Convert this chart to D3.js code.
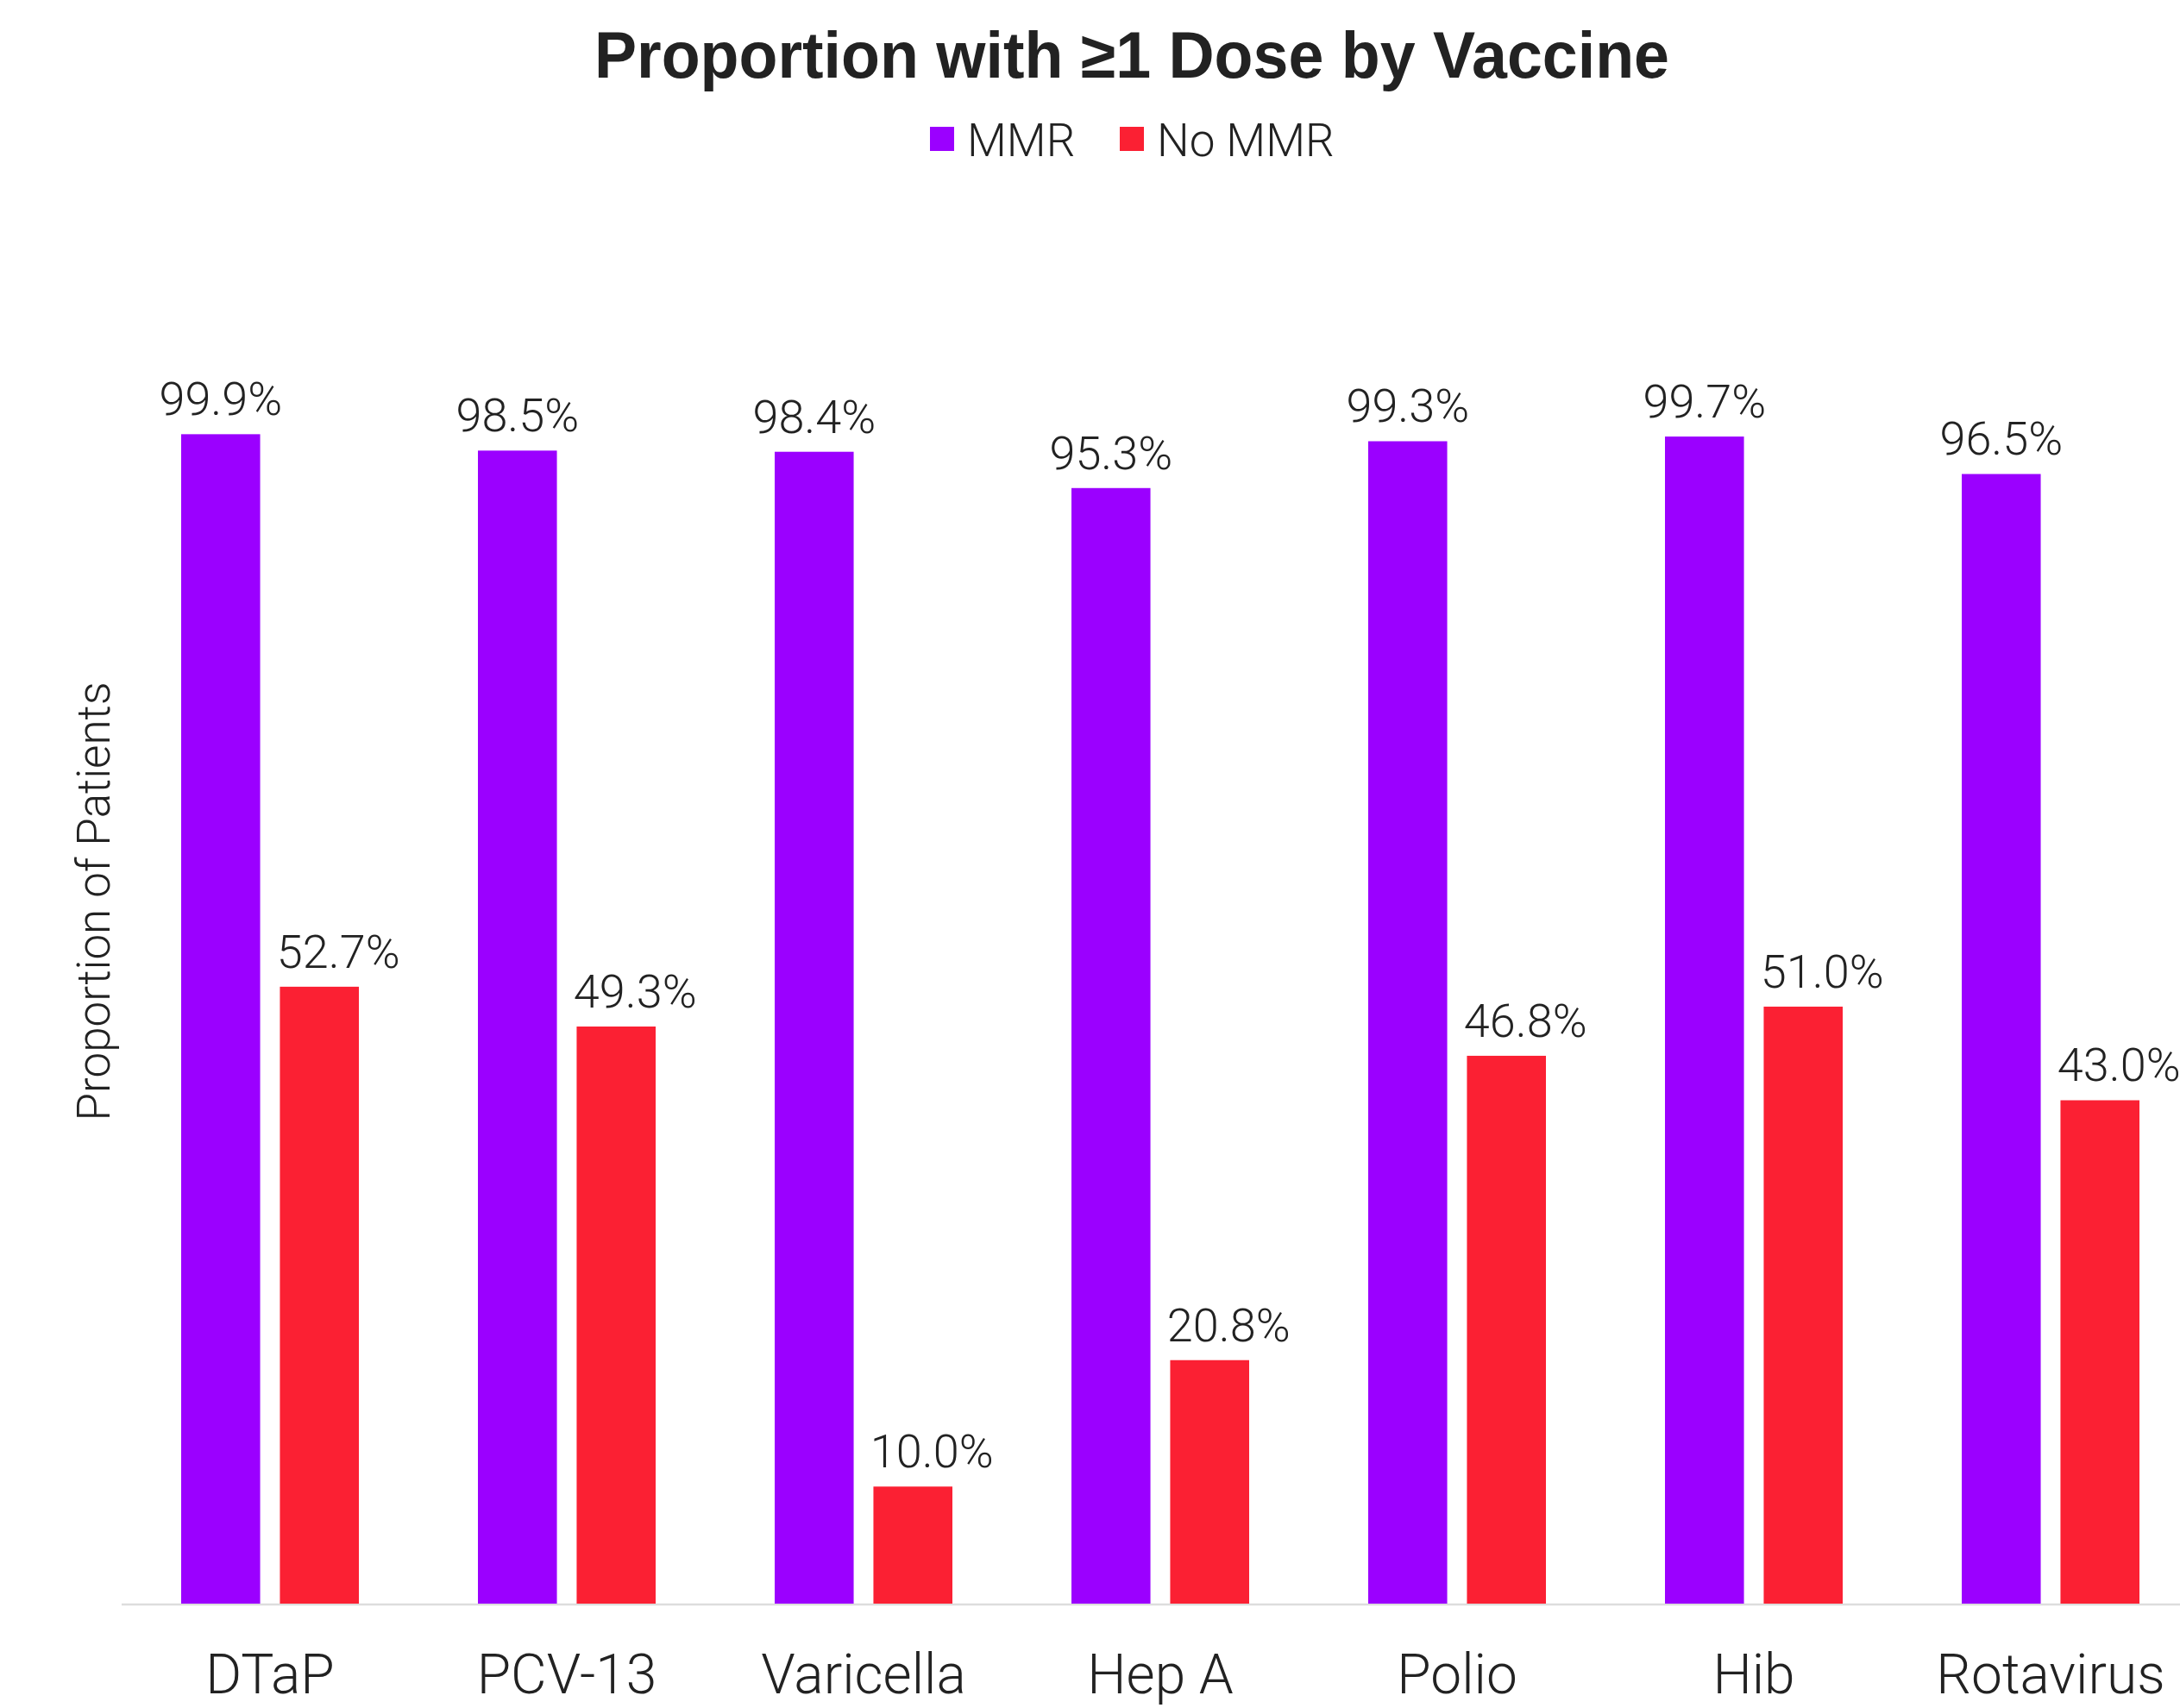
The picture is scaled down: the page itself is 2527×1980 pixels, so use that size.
<!DOCTYPE html>
<html>
<head>
<meta charset="utf-8">
<script src="https://cdn.jsdelivr.net/npm/d3@7"></script>
<style>
  html, body { margin: 0; padding: 0; background: #ffffff; }
  svg { display: block; }
</style>
</head>
<body>
<script>
const categories = ["DTaP", "PCV-13", "Varicella", "Hep A", "Polio", "Hib", "Rotavirus"];
const seriesNames = ["MMR", "No MMR"];
const mmrValues = [99.9, 98.5, 98.4, 95.3, 99.3, 99.7, 96.5];
const noMmrValues = [52.7, 49.3, 10.0, 20.8, 46.8, 51.0, 43.0];
const seriesColors = ["#9B00FF", "#FB2033"];
const titleText = "Proportion with \u22651 Dose by Vaccine";
const yAxisTitle = "Proportion of Patients";

const W = 2527, H = 1980;
const baseY = 1859;
const textColor = "#222222";
const lightFont = "Roboto, 'Liberation Sans', Arial, sans-serif";

const svg = d3.select("body").append("svg")
  .attr("width", W).attr("height", H);

const x0 = d3.scaleBand().domain(categories).range([141, 2549]).paddingInner(0).paddingOuter(0);
const x1 = d3.scaleBand().domain(seriesNames).range([69, 275]).paddingInner(0.2);
const y = d3.scaleLinear().domain([0, 100]).range([baseY, 502]);
const color = d3.scaleOrdinal().domain(seriesNames).range(seriesColors);

const rows = categories.map((c, i) => ({
  cat: c,
  vals: [
    { s: seriesNames[0], v: mmrValues[i] },
    { s: seriesNames[1], v: noMmrValues[i] }
  ]
}));

// baseline axis
const xAxis = d3.axisBottom(x0).tickSize(0).tickPadding(58);
const axisG = svg.append("g").attr("transform", `translate(0,${baseY + 1})`).call(xAxis);
axisG.select(".domain").attr("stroke", "#dddddd").attr("stroke-width", 2.5)
  .attr("d", `M141,0H${W}`);
axisG.selectAll(".tick text")
  .attr("font-family", lightFont).attr("font-weight", 300)
  .attr("font-size", 64).attr("fill", textColor);

// bars
const groups = svg.append("g").selectAll("g").data(rows).join("g")
  .attr("transform", d => `translate(${x0(d.cat)},0)`);

groups.selectAll("rect").data(d => d.vals).join("rect")
  .attr("x", d => x1(d.s))
  .attr("width", x1.bandwidth())
  .attr("y", d => y(d.v))
  .attr("height", d => baseY - y(d.v))
  .attr("fill", d => color(d.s));

groups.selectAll("text.lbl").data(d => d.vals).join("text")
  .attr("class", "lbl")
  .attr("x", d => x1(d.s) + x1.bandwidth() / 2 + (d.s === seriesNames[1] ? 22 : 0))
  .attr("y", d => y(d.v) - 22)
  .attr("text-anchor", "middle")
  .attr("font-family", lightFont).attr("font-weight", 300)
  .attr("font-size", 54).attr("fill", textColor)
  .text(d => d.v.toFixed(1) + "%");

// title
const title = svg.append("text")
  .attr("x", 1312).attr("y", 90)
  .attr("text-anchor", "middle")
  .attr("font-family", "'Liberation Sans', Arial, sans-serif")
  .attr("font-weight", 700).attr("font-size", 76)
  .attr("fill", textColor)
  .text(titleText);
const tw = title.node().getComputedTextLength();
if (Math.abs(tw - 1246) > 10) title.attr("textLength", 1246).attr("lengthAdjust", "spacingAndGlyphs");

// legend
const legend = svg.append("g");
const legendX = [1078, 1298];
seriesNames.forEach((s, i) => {
  legend.append("rect").attr("x", legendX[i]).attr("y", 147)
    .attr("width", 28).attr("height", 28).attr("fill", color(s));
  legend.append("text").attr("x", legendX[i] + 43).attr("y", 181)
    .attr("font-family", lightFont).attr("font-weight", 300)
    .attr("font-size", 53).attr("fill", textColor).text(s);
});

// y axis title
svg.append("text")
  .attr("transform", "translate(127,1045) rotate(-90)")
  .attr("text-anchor", "middle")
  .attr("font-family", lightFont).attr("font-weight", 300)
  .attr("font-size", 53).attr("fill", textColor)
  .text(yAxisTitle);
</script>
</body>
</html>
